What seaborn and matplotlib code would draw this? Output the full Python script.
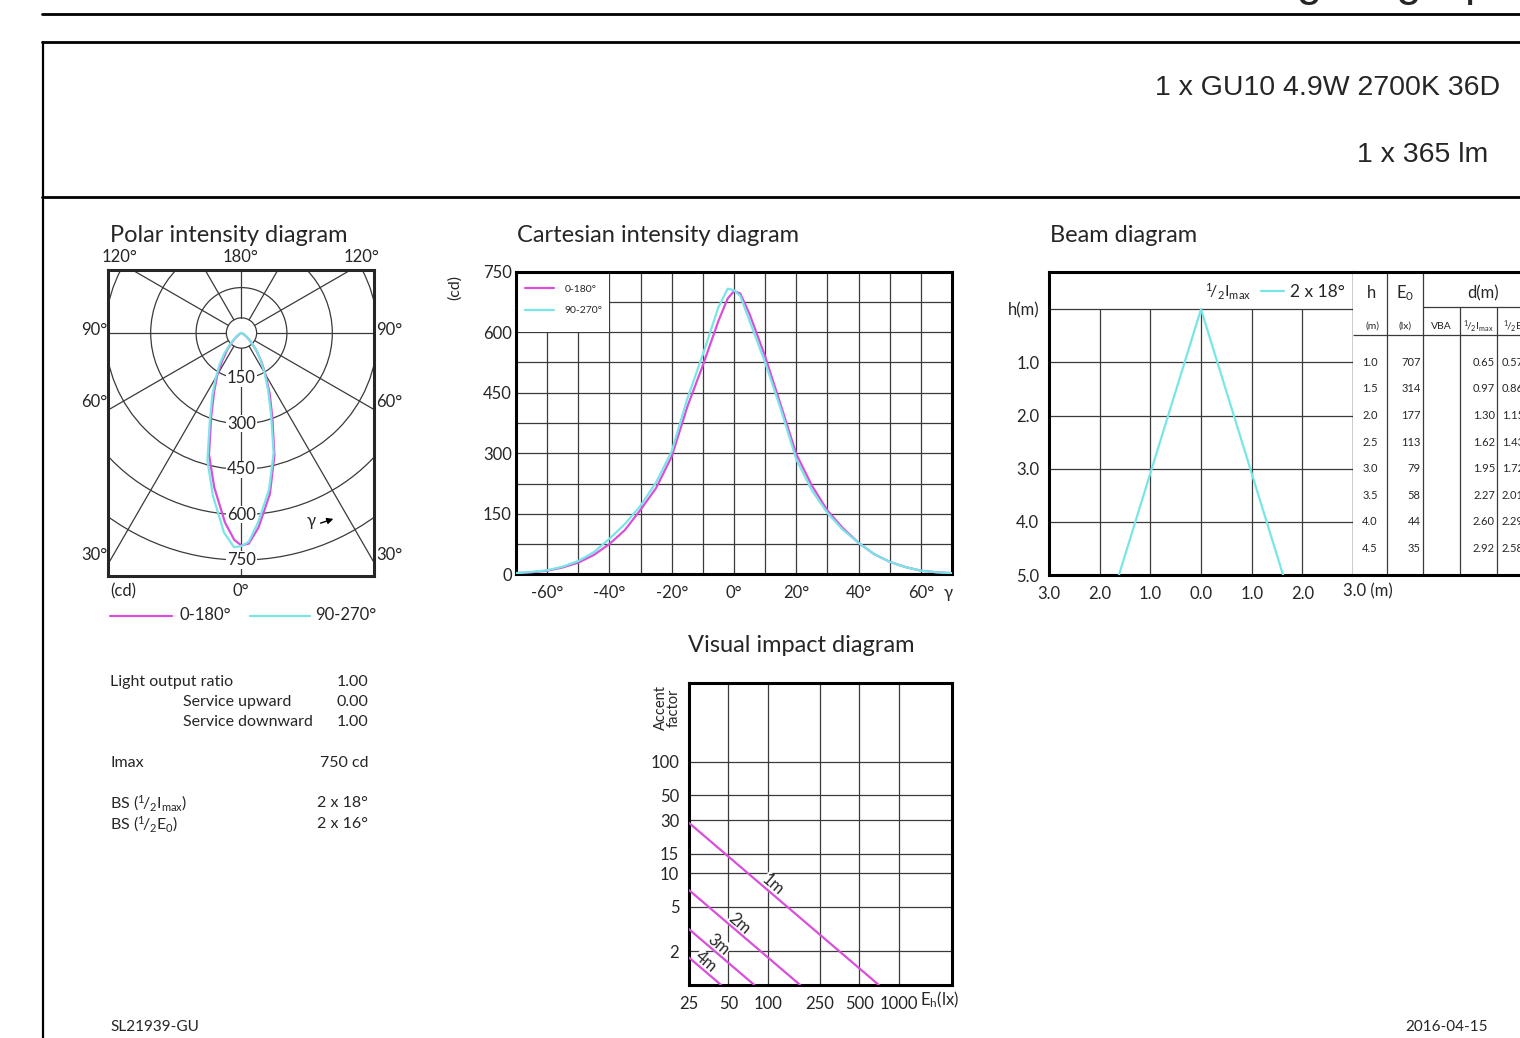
import numpy as np
import pandas as pd
import matplotlib
matplotlib.use("Agg")
import matplotlib.pyplot as plt
import seaborn as sns
from matplotlib.lines import Line2D
from matplotlib.patches import Rectangle, Circle
from matplotlib.ticker import FixedLocator, NullLocator, FixedFormatter

# ------------------------------------------------------------------ data
gamma_deg = [-90, -80, -70, -65, -60, -55, -50, -45, -40, -35, -30, -25, -20, -15,
             -10, -5, -2, 0, 2, 5, 10, 15, 20, 25, 30, 35, 40, 45, 50, 55, 60, 65,
             70, 80, 90]
cd_0_180 = [0, 1, 3, 5, 9, 17, 29, 48, 75, 110, 160, 214, 292, 415,
            518, 628, 684, 702, 696, 645, 540, 420, 298, 220, 158, 114, 78, 50, 31, 18, 9, 5,
            3, 1, 0]
cd_90_270 = [0, 1, 3, 6, 10, 19, 33, 55, 88, 125, 170, 228, 305, 435,
             545, 662, 708, 704, 690, 628, 525, 410, 285, 208, 152, 110, 78, 50, 31, 18, 9, 5,
             3, 1, 0]
series_names = ["0-180°", "90-270°"]

polar_rings = [150, 300, 450, 600, 750]
polar_inner_ring = 50

cart_xticks = [-60, -40, -20, 0, 20, 40, 60]
cart_yticks = [0, 150, 300, 450, 600, 750]

beam_half_angle = "2 x 18°"
beam_height_max = 5.0
beam_half_width_at_max = 1.62
beam_xticks = [-3, -2, -1, 0, 1, 2]
beam_xlabels = ["3.0", "2.0", "1.0", "0.0", "1.0", "2.0"]
beam_yticks = [0, 1, 2, 3, 4, 5]
beam_ylabels = ["h(m)", "1.0", "2.0", "3.0", "4.0", "5.0"]

table_h = [1.0, 1.5, 2.0, 2.5, 3.0, 3.5, 4.0, 4.5]
table_E0 = [707, 314, 177, 113, 79, 58, 44, 35]
table_d_imax = [0.65, 0.97, 1.30, 1.62, 1.95, 2.27, 2.60, 2.92]
table_d_e0 = [0.57, 0.86, 1.15, 1.43, 1.72, 2.01, 2.29, 2.58]

vi_labels = ["1m", "2m", "3m", "4m"]
vi_E0 = [707, 177, 79, 44]
vi_accent_at_25 = [28.3, 7.08, 3.16, 1.76]
vi_label_eh = [110, 61, 42, 33.5]
vi_xticks = [25, 50, 100, 250, 500, 1000]
vi_yticks = [2, 5, 10, 15, 30, 50, 100]

summary_rows = [("Light output ratio", "1.00"), ("Service upward", "0.00"),
                ("Service downward", "1.00")]
imax_text = "750 cd"
bs_imax = "2 x 18°"
bs_e0 = "2 x 16°"

# ------------------------------------------------------------------ style
sns.set_style("white")
plt.rcParams['font.family'] = ['Lato', 'DejaVu Sans']
plt.rcParams['mathtext.fontset'] = 'custom'
plt.rcParams['mathtext.rm'] = 'Lato'
plt.rcParams['mathtext.it'] = 'Lato:italic'
plt.rcParams['mathtext.bf'] = 'Lato:bold'

MAG = '#d94fd9'
CYA = '#78e6e6'
GRID = '#3a3a3a'
SPW = 2.2
TITLE_FS = 17
TICK_FS = 12
INFO_FS = 11.5

W, H = 1520, 1038
fig = plt.figure(figsize=(W / 100, H / 100), dpi=100)


def rect(x0, y0, x1, y1):
    return [x0 / W, 1 - y1 / H, (x1 - x0) / W, (y1 - y0) / H]


def ftext(x, y, s, **kw):
    kw.setdefault('va', 'center')
    return fig.text(x / W, 1 - y / H, s, **kw)


def fline(xs, ys, **kw):
    fig.add_artist(Line2D([x / W for x in xs], [1 - y / H for y in ys],
                          transform=fig.transFigure, **kw))


# ------------------------------------------------------------------ page frame
fline([42, 1520], [14, 14], color='black', lw=2.0)
fline([42, 1520], [42, 42], color='black', lw=2.0)
fline([43, 43], [42, 1038], color='black', lw=1.6)
fline([42, 1520], [197, 197], color='black', lw=2.0)
fig.text(1261 / W, 1 + 4.7 / H, "Lighting Specification", family='Liberation Sans',
         fontsize=33, va='baseline', ha='left')
ftext(1500, 88, "1 x GU10 4.9W 2700K 36D", family='Liberation Sans', fontsize=20.5, ha='right')
ftext(1488, 155, "1 x 365 lm", family='Liberation Sans', fontsize=20.5, ha='right')
ftext(110, 1027, "SL21939-GU", fontsize=11)
ftext(1488, 1027, "2016-04-15", fontsize=11, ha='right')

# ------------------------------------------------------------------ polar
ftext(110, 236, "Polar intensity diagram", fontsize=TITLE_FS)
axp = fig.add_axes(rect(108, 270, 374, 576))
axp.set_xlim(-441, 437.7)
axp.set_ylim(-802.8, 208.1)
axp.set_xticks([]); axp.set_yticks([])
for s in axp.spines.values():
    s.set_linewidth(SPW)
for r in [polar_inner_ring] + polar_rings:
    axp.add_patch(Circle((0, 0), r, fill=False, lw=0.9, ec=GRID, zorder=1))
for a in range(0, 360, 30):
    t = np.deg2rad(a)
    axp.plot([polar_inner_ring * np.sin(t), 1500 * np.sin(t)],
             [-polar_inner_ring * np.cos(t), -1500 * np.cos(t)], color=GRID, lw=0.9, zorder=1)
for r in polar_rings:
    axp.text(0, -r, str(r), ha='center', va='center', fontsize=TICK_FS, zorder=2,
             bbox=dict(fc='white', ec='none', pad=0.5))
g = np.deg2rad(np.array(gamma_deg))
rows = []
for name, vals in zip(series_names, [cd_0_180, cd_90_270]):
    v = np.array(vals, dtype=float)
    for i in range(len(v)):
        rows.append((name, i, v[i] * np.sin(g[i]), -v[i] * np.cos(g[i]), gamma_deg[i], v[i]))
df = pd.DataFrame(rows, columns=['series', 'idx', 'px', 'py', 'gamma', 'cd'])
sns.lineplot(data=df, x='px', y='py', hue='series', palette=[MAG, CYA], sort=False,
             estimator=None, lw=1.6, legend=False, ax=axp, zorder=3)
axp.set_xlabel(''); axp.set_ylabel('')
ftext(307, 521, "γ", fontsize=12)
fig.add_artist(matplotlib.patches.FancyArrowPatch((318, H - 524), (336, H - 518),
               transform=None, arrowstyle='-|>', mutation_scale=9, lw=1, color='black'))
for x, y, s in [(120, 257, "120°"), (241, 257, "180°"), (362, 257, "120°"),
                (94, 330, "90°"), (389, 330, "90°"), (94, 402, "60°"), (389, 402, "60°"),
                (94, 555, "30°"), (389, 555, "30°"), (241, 591, "0°")]:
    ftext(x, y, s, fontsize=TICK_FS, ha='center')
ftext(110, 591, "(cd)", fontsize=TICK_FS)
fline([110, 172], [616, 616], color=MAG, lw=1.6)
ftext(179, 615, series_names[0], fontsize=TICK_FS)
fline([250, 310], [616, 616], color=CYA, lw=1.6)
ftext(315, 615, series_names[1], fontsize=TICK_FS)

# ------------------------------------------------------------------ cartesian
ftext(517, 236, "Cartesian intensity diagram", fontsize=TITLE_FS)
axc = fig.add_axes(rect(516, 271.7, 952, 574.3))
sns.lineplot(data=df, x='gamma', y='cd', hue='series', palette=[MAG, CYA],
             estimator=None, lw=1.6, ax=axc, zorder=3)
axc.set_xlim(-70, 70); axc.set_ylim(0, 750)
axc.set_xlabel(''); axc.set_ylabel('')
xt = list(range(-70, 71, 10))
axc.xaxis.set_major_locator(FixedLocator(xt))
axc.xaxis.set_major_formatter(FixedFormatter([f"{v}°" if v in cart_xticks else "" for v in xt]))
yt = list(range(0, 751, 75))
axc.yaxis.set_major_locator(FixedLocator(yt))
axc.yaxis.set_major_formatter(FixedFormatter([str(v) if v in cart_yticks else "" for v in yt]))
axc.grid(True, color=GRID, lw=0.9)
axc.set_axisbelow(True)
axc.tick_params(length=0, labelsize=TICK_FS)
axc.tick_params(axis='x', pad=8)
axc.tick_params(axis='y', pad=3)
for s in axc.spines.values():
    s.set_linewidth(SPW); s.set_color('black')
axc.add_patch(Rectangle((-70, 600), 30, 150, fc='white', ec='none', zorder=1))
h, l = axc.get_legend_handles_labels()
axc.legend(h, l, loc='upper left', bbox_to_anchor=(0.02, 0.957), frameon=False,
           fontsize=7.5, handlelength=2.8, handletextpad=1.0, labelspacing=1.15,
           borderpad=0, borderaxespad=0)
ftext(455, 287, "(cd)", fontsize=11.5, rotation=90, ha='center')
ftext(948, 593, "γ", fontsize=12, ha='center')

# ------------------------------------------------------------------ beam
ftext(1050, 236, "Beam diagram", fontsize=TITLE_FS)
axb = fig.add_axes(rect(1049, 271.7, 1353, 575))
axb.set_xlim(-3, 3); axb.set_ylim(5, -0.706)
axb.vlines([-2, -1, 0, 1, 2], 0, 5, color=GRID, lw=0.9, zorder=1)
for yv in [0, 1, 2, 3, 4]:
    axb.axhline(yv, color=GRID, lw=0.9, zorder=1)
beam_df = pd.DataFrame({'d': [-beam_half_width_at_max, 0.0, beam_half_width_at_max],
                        'h': [beam_height_max, 0.0, beam_height_max]})
sns.lineplot(data=beam_df, x='d', y='h', sort=False, estimator=None, color=CYA, lw=1.6,
             ax=axb, zorder=3)
axb.set_xlabel(''); axb.set_ylabel('')
axb.set_xticks(beam_xticks); axb.set_xticklabels(beam_xlabels)
axb.set_yticks(beam_yticks); axb.set_yticklabels(beam_ylabels)
axb.tick_params(length=0, labelsize=TICK_FS)
axb.tick_params(axis='x', pad=8)
axb.tick_params(axis='y', pad=7)
for k, s in axb.spines.items():
    s.set_linewidth(SPW if k != 'right' else 1.0); s.set_color('black')
ftext(1343, 591, "3.0 (m)", fontsize=TICK_FS)
ftext(1251, 292, r"$^{1}\!/_{2}\mathrm{I}_{\mathrm{max}}$", fontsize=11.5, ha='right')
fline([1261, 1284], [291, 291], color=CYA, lw=1.6)
ftext(1290, 292, beam_half_angle, fontsize=12.5)

# ------------------------------------------------------------------ table
axt = fig.add_axes(rect(1353, 271.7, 1620, 575))
axt.set_xlim(0, 267); axt.set_ylim(5, -0.706)
axt.set_xticks([]); axt.set_yticks([])
axt.spines['left'].set_visible(False); axt.spines['right'].set_visible(False)
for k in ['top', 'bottom']:
    axt.spines[k].set_linewidth(SPW); axt.spines[k].set_color('black')
axt.vlines([33.7, 69.7], -0.706, 5, color=GRID, lw=0.9)
axt.vlines([107, 143.7, 181], -0.049, 5, color=GRID, lw=0.9)
axt.hlines(-0.049, 69.7, 267, color=GRID, lw=0.9)
axt.hlines(0.482, 0, 267, color=GRID, lw=0.9)
axt.text(19, -0.306, "h", ha='center', va='center', fontsize=12)
axt.text(52, -0.306, r"E$_0$", ha='center', va='center', fontsize=12)
axt.text(130, -0.306, "d(m)", ha='center', va='center', fontsize=12)
axt.text(19, 0.326, "(m)", ha='center', va='center', fontsize=7.5)
axt.text(52, 0.326, "(lx)", ha='center', va='center', fontsize=7.5)
axt.text(88.5, 0.326, "VBA", ha='center', va='center', fontsize=7.5)
axt.text(125.3, 0.326, r"$^{1}\!/_{2}\mathrm{I}_{\mathrm{max}}$", ha='center', va='center', fontsize=7.5)
axt.text(162, 0.326, r"$^{1}\!/_{2}\mathrm{E}_{0}$", ha='center', va='center', fontsize=7.5)
for hv, e0, d1, d2 in zip(table_h, table_E0, table_d_imax, table_d_e0):
    axt.text(17, hv, f"{hv:.1f}", ha='center', va='center', fontsize=8)
    axt.text(67.5, hv, f"{e0}", ha='right', va='center', fontsize=8)
    axt.text(142, hv, f"{d1:.2f}", ha='right', va='center', fontsize=8)
    axt.text(149, hv, f"{d2:.2f}", ha='left', va='center', fontsize=8)

# ------------------------------------------------------------------ visual impact
ftext(801, 646, "Visual impact diagram", fontsize=TITLE_FS, ha='center')
axv = fig.add_axes(rect(689, 682.7, 951.7, 985))
axv.set_xscale('log'); axv.set_yscale('log')
axv.set_xlim(25, 2550); axv.set_ylim(1, 510)
axv.vlines(vi_xticks[1:], 1, 510, color=GRID, lw=0.9, zorder=1)
axv.hlines(vi_yticks, 25, 2550, color=GRID, lw=0.9, zorder=1)
vrows = []
for lab, e0, a25 in zip(vi_labels, vi_E0, vi_accent_at_25):
    vrows.append((lab, 25, a25))
    vrows.append((lab, e0, 1.0))
vdf = pd.DataFrame(vrows, columns=['h', 'eh', 'acc'])
sns.lineplot(data=vdf, x='eh', y='acc', hue='h', palette=[MAG] * 4, estimator=None,
             lw=1.6, legend=False, ax=axv, zorder=3)
axv.set_xlabel(''); axv.set_ylabel('')
for lab, e0, xe in zip(vi_labels, vi_E0, vi_label_eh):
    axv.text(xe, e0 / xe * 1.22, lab, rotation=-40.5, ha='center', va='center',
             fontsize=TICK_FS, zorder=2, rotation_mode='anchor',
             bbox=dict(fc='white', ec='none', pad=0.2))
axv.xaxis.set_major_locator(FixedLocator(vi_xticks))
axv.xaxis.set_major_formatter(FixedFormatter([str(v) for v in vi_xticks]))
axv.xaxis.set_minor_locator(NullLocator())
axv.yaxis.set_major_locator(FixedLocator(vi_yticks))
axv.yaxis.set_major_formatter(FixedFormatter([str(v) for v in vi_yticks]))
axv.yaxis.set_minor_locator(NullLocator())
axv.tick_params(length=0, labelsize=TICK_FS)
axv.tick_params(axis='x', pad=8)
axv.tick_params(axis='y', pad=7)
for s in axv.spines.values():
    s.set_linewidth(SPW); s.set_color('black')
ftext(920, 1000, r"E$_\mathrm{h}$(lx)", fontsize=TICK_FS)
ftext(667, 708, "Accent\nfactor", fontsize=10.5, rotation=90, ha='center', linespacing=0.9)

# ------------------------------------------------------------------ summary text
ftext(110, 682, summary_rows[0][0], fontsize=INFO_FS)
ftext(368, 682, summary_rows[0][1], fontsize=INFO_FS, ha='right')
ftext(183, 702, summary_rows[1][0], fontsize=INFO_FS)
ftext(368, 702, summary_rows[1][1], fontsize=INFO_FS, ha='right')
ftext(183, 722, summary_rows[2][0], fontsize=INFO_FS)
ftext(368, 722, summary_rows[2][1], fontsize=INFO_FS, ha='right')
ftext(110, 763, "Imax", fontsize=INFO_FS)
ftext(368, 763, imax_text, fontsize=INFO_FS, ha='right')
ftext(110, 803, r"BS ($^{1}\!/_{2}\mathrm{I}_{\mathrm{max}}$)", fontsize=INFO_FS)
ftext(368, 803, bs_imax, fontsize=INFO_FS, ha='right')
ftext(110, 824, r"BS ($^{1}\!/_{2}\mathrm{E}_{0}$)", fontsize=INFO_FS)
ftext(368, 824, bs_e0, fontsize=INFO_FS, ha='right')

fig.savefig("out.png", dpi=100)
